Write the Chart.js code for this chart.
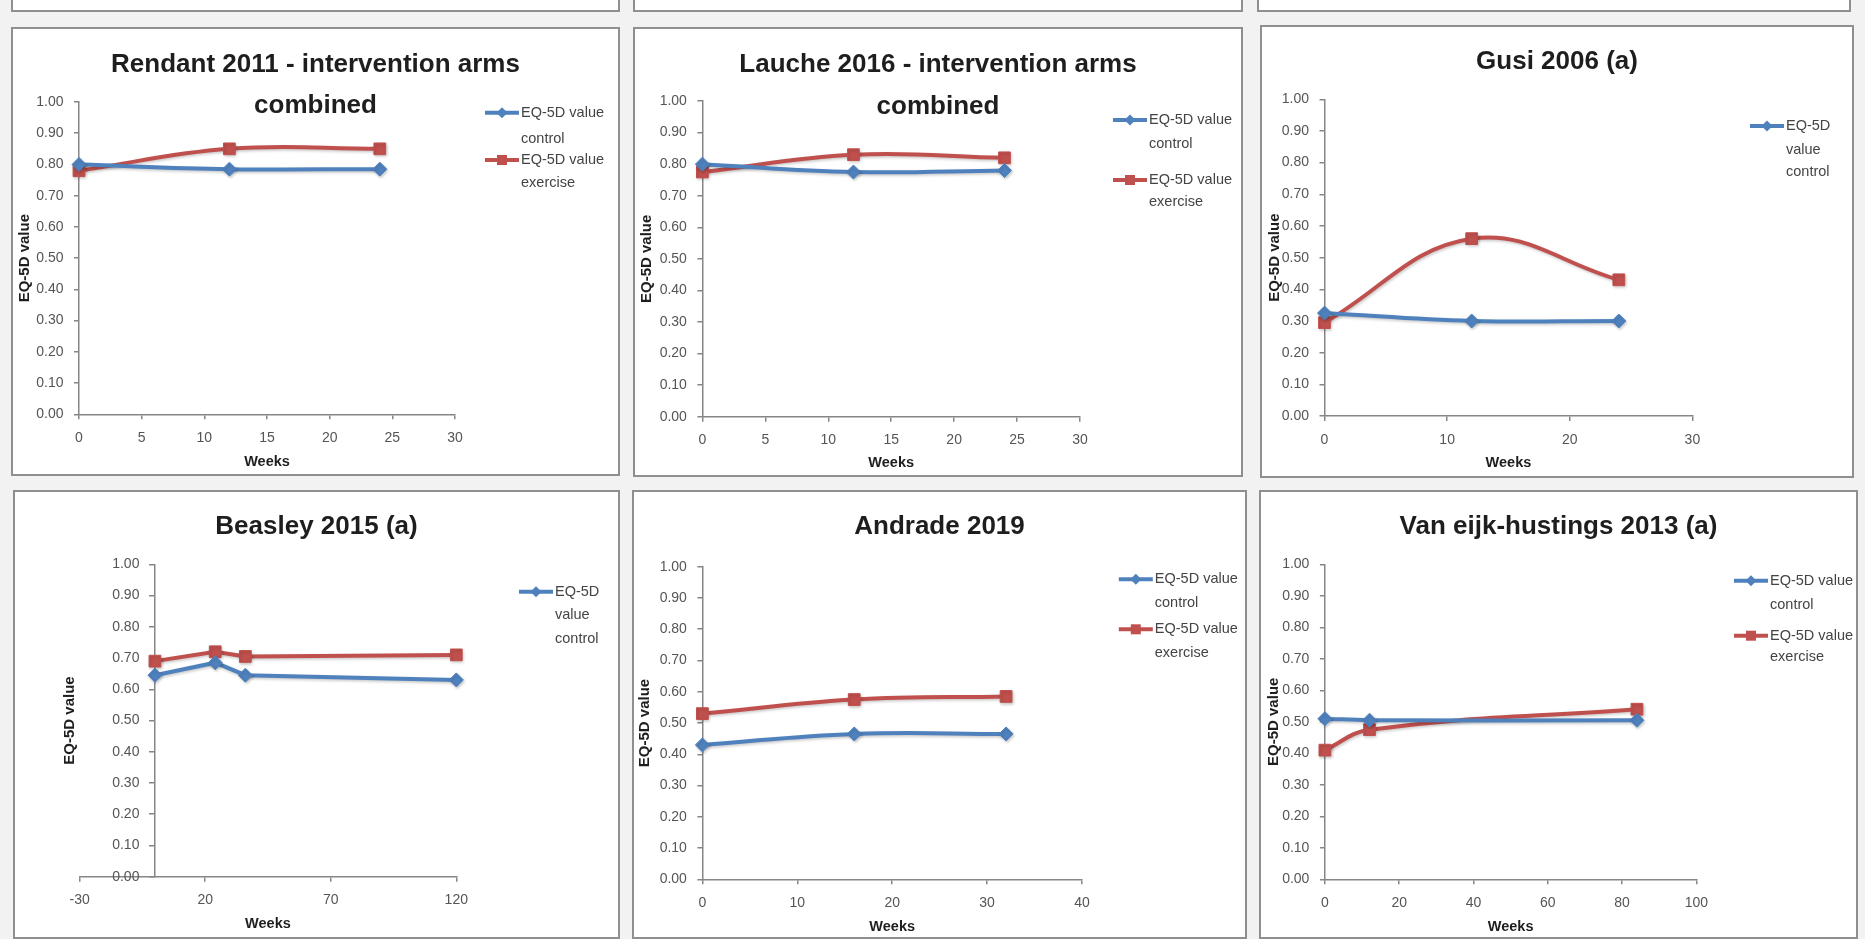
<!DOCTYPE html>
<html>
<head>
<meta charset="utf-8">
<title>EQ-5D value over weeks</title>
<script src="https://cdn.jsdelivr.net/npm/chart.js@4.4.1/dist/chart.umd.min.js"></script>
<style>
  html, body { margin: 0; padding: 0; background: #f2f2f2; width: 1865px; height: 939px; overflow: hidden; }
  .panel { position: absolute; box-sizing: border-box; border: 2px solid #8f8f8f; background: #ffffff; }
  .panel canvas { position: absolute; left: 0; top: 0; }
</style>
</head>
<body>
<script>
// ---------------- DATA ----------------
const rendantWeeks    = [0, 12, 24];
const rendantControl  = [0.80, 0.785, 0.785];
const rendantExercise = [0.78, 0.85, 0.85];

const laucheWeeks    = [0, 12, 24];
const laucheControl  = [0.80, 0.775, 0.78];
const laucheExercise = [0.775, 0.83, 0.82];

const gusiWeeks    = [0, 12, 24];
const gusiControl  = [0.325, 0.30, 0.30];
const gusiExercise = [0.295, 0.56, 0.43];

const beasleyWeeks    = [0, 24, 36, 120];
const beasleyControl  = [0.645, 0.685, 0.645, 0.63];
const beasleyExercise = [0.69, 0.72, 0.705, 0.71];

const andradeWeeks    = [0, 16, 32];
const andradeControl  = [0.43, 0.465, 0.465];
const andradeExercise = [0.53, 0.575, 0.585];

const vanEijkWeeks    = [0, 12, 84];
const vanEijkControl  = [0.51, 0.505, 0.505];
const vanEijkExercise = [0.41, 0.475, 0.54];

// x-axis tick ranges: [min, max, step]
const rendantXTicks = [0, 30, 5];
const laucheXTicks  = [0, 30, 5];
const gusiXTicks    = [0, 30, 10];
const beasleyXTicks = [-30, 120, 50];
const andradeXTicks = [0, 40, 10];
const vanEijkXTicks = [0, 100, 20];
// y-axis tick range: [min, max, step]
const yTicks = [0, 1, 0.1];

const seriesNames = ['EQ-5D value control', 'EQ-5D value exercise'];

// ---------------- STYLE ----------------
const FONT = "'Liberation Sans', Arial, Helvetica, sans-serif";
const BLUE = '#4F81BD', RED = '#C0504D', AXIS = '#868686', TICK = '#555555', DARK = '#1e1e1e';

const panels = [
  { title: ['Rendant 2011 - intervention arms', 'combined'], weeks: rendantWeeks, control: rendantControl, exercise: rendantExercise,
    xTicks: rendantXTicks, tension: 0.4, box: [11, 27, 620, 476], yW: 66, padTop: 73, padRight: 163, xH: 59.7,
    yTitleX: 12, weeksOff: 12, titleY: 36, titleGap: 41, legendX: 472,
    legend: [{ lines: ['EQ-5D value', 'control'], y: [83.7, 110] }, { lines: ['EQ-5D value', 'exercise'], y: [131, 153.7] }] },
  { title: ['Lauche 2016 - intervention arms', 'combined'], weeks: laucheWeeks, control: laucheControl, exercise: laucheExercise,
    xTicks: laucheXTicks, tension: 0.4, box: [633, 27, 1243, 477], yW: 67.4, padTop: 72, padRight: 161, xH: 58.3,
    yTitleX: 11.5, weeksOff: 11.7, titleY: 36, titleGap: 42, legendX: 478,
    legend: [{ lines: ['EQ-5D value', 'control'], y: [91, 115] }, { lines: ['EQ-5D value', 'exercise'], y: [151, 173] }] },
  { title: ['Gusi 2006 (a)'], weeks: gusiWeeks, control: gusiControl, exercise: gusiExercise,
    xTicks: gusiXTicks, tension: 0.4, box: [1260, 25, 1854, 478], yW: 62.5, padTop: 72.3, padRight: 159.6, xH: 60,
    yTitleX: 13, weeksOff: 12.7, titleY: 34.7, titleGap: 41, legendX: 488,
    legend: [{ lines: ['EQ-5D', 'value', 'control'], y: [99, 123, 145] }] },
  { title: ['Beasley 2015 (a)'], weeks: beasleyWeeks, control: beasleyControl, exercise: beasleyExercise,
    xTicks: beasleyXTicks, tension: 0, yAtZero: true, box: [13, 490, 620, 939], yW: 64.6, padTop: 72.3, padRight: 161.7, xH: 60.3,
    yTitleX: 54.4, weeksOff: 13, titleY: 34.7, titleGap: 41, legendX: 504,
    legend: [{ lines: ['EQ-5D', 'value', 'control'], y: [99.7, 123, 147.3] }] },
  { title: ['Andrade 2019'], weeks: andradeWeeks, control: andradeControl, exercise: andradeExercise,
    xTicks: andradeXTicks, tension: 0.4, box: [632, 490, 1247, 939], yW: 68.4, padTop: 74.7, padRight: 163, xH: 57.7,
    yTitleX: 11.3, weeksOff: 9.7, titleY: 34.7, titleGap: 41, legendX: 484.8,
    legend: [{ lines: ['EQ-5D value', 'control'], y: [87.3, 110.7] }, { lines: ['EQ-5D value', 'exercise'], y: [137.3, 160.7] }] },
  { title: ['Van eijk-hustings 2013 (a)'], weeks: vanEijkWeeks, control: vanEijkControl, exercise: vanEijkExercise,
    xTicks: vanEijkXTicks, tension: 0.4, box: [1259, 490, 1858, 939], yW: 63.9, padTop: 72.3, padRight: 159.6, xH: 57.7,
    yTitleX: 12.9, weeksOff: 9.7, titleY: 34.7, titleGap: 41, legendX: 473,
    legend: [{ lines: ['EQ-5D value', 'control'], y: [88.7, 113] }, { lines: ['EQ-5D value', 'exercise'], y: [143.7, 165.3] }] }
];

// partially visible panels of the row above
[[11, -60, 620, 12], [633, -60, 1243, 12], [1257, -60, 1851, 12]].forEach(b => {
  const d = document.createElement('div');
  d.className = 'panel';
  d.style.left = b[0] + 'px'; d.style.top = b[1] + 'px';
  d.style.width = (b[2] - b[0]) + 'px'; d.style.height = (b[3] - b[1]) + 'px';
  document.body.appendChild(d);
});

function drawMarker(ctx, style, x, y, r, color) {
  ctx.fillStyle = color;
  ctx.beginPath();
  if (style === 'rectRot') {
    ctx.moveTo(x, y - r); ctx.lineTo(x + r, y); ctx.lineTo(x, y + r); ctx.lineTo(x - r, y);
  } else {
    ctx.rect(x - r, y - r, 2 * r, 2 * r);
  }
  ctx.closePath();
  ctx.fill();
}

function decorPlugin(p) {
  return {
    id: 'panelDecor',
    beforeDraw(chart) {
      const s = chart.scales.y;
      if (s && typeof s.options.position === 'object') {
        const tl = s.options.grid.tickLength;
        const pad = s.options.ticks.padding;
        const axisX = chart.scales.x.getPixelForValue(s.options.position.x);
        const want = axisX - tl - pad;
        const items = s.getLabelItems(chart.chartArea) || [];
        items.forEach(it => {
          const t = it.options && it.options.translation;
          if (t && t[0] > want + 0.5) t[0] = want;
        });
      }
    },
    afterDraw(chart) {
      const ctx = chart.ctx;
      ctx.save();
      // chart title
      ctx.fillStyle = DARK;
      ctx.font = 'bold 26px ' + FONT;
      ctx.textAlign = 'center';
      ctx.textBaseline = 'middle';
      p.title.forEach((line, i) => ctx.fillText(line, chart.width / 2, p.titleY + i * p.titleGap));
      // legend
      p.legend.forEach((item, i) => {
        const ds = chart.data.datasets[i];
        const y0 = item.y[0];
        ctx.strokeStyle = ds.borderColor;
        ctx.lineWidth = 4;
        ctx.beginPath();
        ctx.moveTo(p.legendX, y0);
        ctx.lineTo(p.legendX + 34, y0);
        ctx.stroke();
        drawMarker(ctx, ds.pointStyle, p.legendX + 17, y0, ds.pointStyle === 'rect' ? 5 : 5.5, ds.borderColor);
        ctx.fillStyle = '#444444';
        ctx.font = '14.5px ' + FONT;
        ctx.textAlign = 'left';
        ctx.textBaseline = 'middle';
        item.lines.forEach((t, j) => ctx.fillText(t, p.legendX + 36, item.y[j]));
      });
      ctx.restore();
    }
  };
}

const shadowPlugin = {
  id: 'lineShadow',
  beforeDatasetsDraw(chart) {
    const ctx = chart.ctx;
    ctx.save();
    ctx.shadowColor = 'rgba(0,0,0,0.22)';
    ctx.shadowBlur = 3;
    ctx.shadowOffsetX = 1;
    ctx.shadowOffsetY = 1.5;
  },
  afterDatasetsDraw(chart) { chart.ctx.restore(); }
};

function axisCommon() {
  return {
    grid: { display: true, drawOnChartArea: false, drawTicks: true, tickLength: 5, color: AXIS, lineWidth: 1.5 },
    border: { display: true, color: AXIS, width: 1.5 }
  };
}

panels.forEach(p => {
  const div = document.createElement('div');
  div.className = 'panel';
  div.style.left = p.box[0] + 'px'; div.style.top = p.box[1] + 'px';
  div.style.width = (p.box[2] - p.box[0]) + 'px'; div.style.height = (p.box[3] - p.box[1]) + 'px';
  const cw = p.box[2] - p.box[0] - 4, ch = p.box[3] - p.box[1] - 4;
  const canvas = document.createElement('canvas');
  canvas.width = cw; canvas.height = ch;
  canvas.style.width = cw + 'px'; canvas.style.height = ch + 'px';
  div.appendChild(canvas);
  document.body.appendChild(div);

  const datasets = [
    { label: seriesNames[0], data: p.weeks.map((w, i) => ({ x: w, y: p.control[i] })),
      borderColor: BLUE, backgroundColor: BLUE, pointBackgroundColor: BLUE, pointBorderColor: BLUE,
      pointStyle: 'rectRot', pointRadius: 7, pointBorderWidth: 1, borderWidth: 4, tension: p.tension, fill: false, clip: false },
    { label: seriesNames[1], data: p.weeks.map((w, i) => ({ x: w, y: p.exercise[i] })),
      borderColor: RED, backgroundColor: RED, pointBackgroundColor: RED, pointBorderColor: RED,
      pointStyle: 'rect', pointRadius: 8.3, pointBorderWidth: 1, borderWidth: 4, tension: p.tension, fill: false, clip: false }
  ];

  const tickFont = { family: FONT, size: 14 };
  const scales = {
    x: Object.assign(axisCommon(), {
      type: 'linear', position: 'bottom', min: p.xTicks[0], max: p.xTicks[1],
      ticks: { stepSize: p.xTicks[2], autoSkip: false, maxRotation: 0, padding: 10.3, color: TICK, font: tickFont },
      title: { display: true, text: 'Weeks', color: DARK, font: { family: FONT, size: 14.5, weight: 'bold' },
               padding: { top: 0, bottom: p.weeksOff - 8.7 } },
      afterFit(s) { s.height = p.xH; }
    }),
    y: Object.assign(axisCommon(), {
      type: 'linear', position: p.yAtZero ? { x: 0 } : 'left', min: yTicks[0], max: yTicks[1],
      ticks: { stepSize: yTicks[2], autoSkip: false, padding: 10.5, color: TICK, font: tickFont,
               callback: v => Number(v).toFixed(2) },
      title: p.yAtZero ? { display: false } : { display: true, text: 'EQ-5D value', color: DARK,
               font: { family: FONT, size: 15, weight: 'bold' }, padding: { top: p.yTitleX - 9, bottom: 0 } },
      afterFit(s) { if (!p.yAtZero) s.width = p.yW; }
    })
  };
  if (p.yAtZero) {
    scales.yt = {
      type: 'linear', position: 'left', display: true, min: yTicks[0], max: yTicks[1],
      ticks: { display: false }, grid: { display: false }, border: { display: false },
      title: { display: true, text: 'EQ-5D value', color: DARK, font: { family: FONT, size: 15, weight: 'bold' },
               padding: { top: p.yTitleX - 9, bottom: 0 } },
      afterFit(s) { s.width = p.yW; }
    };
  }

  new Chart(canvas, {
    type: 'line',
    data: { datasets },
    options: {
      responsive: false, animation: false, devicePixelRatio: 1, clip: false,
      layout: { padding: { left: 0, top: p.padTop, right: p.padRight, bottom: 0 } },
      plugins: { legend: { display: false }, title: { display: false }, tooltip: { enabled: false } },
      scales
    },
    plugins: [shadowPlugin, decorPlugin(p)]
  });
});
</script>
</body>
</html>
